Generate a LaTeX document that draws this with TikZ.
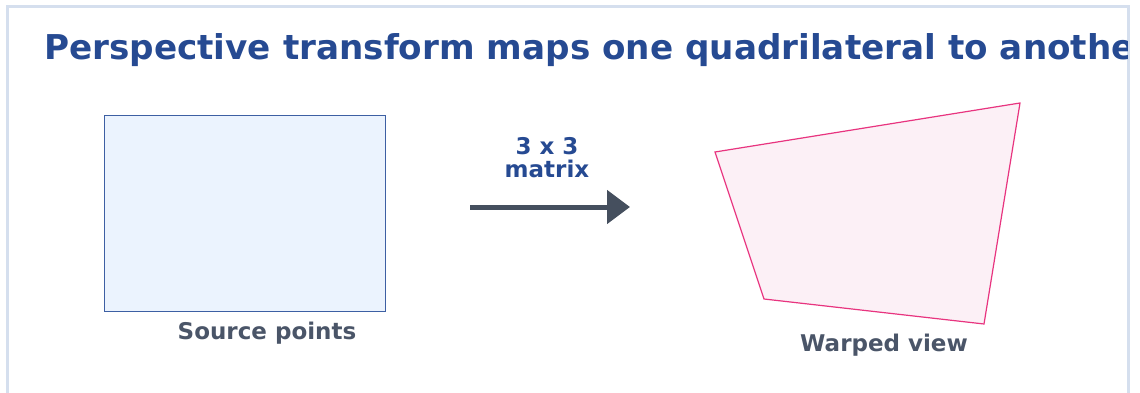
\documentclass[tikz,border=0pt]{standalone}
\usepackage{fontspec}
\setmainfont{DejaVu Sans}
\usetikzlibrary{arrows.meta}
\definecolor{titleblue}{HTML}{264A92}
\definecolor{framecol}{HTML}{D5DFEE}
\definecolor{labgray}{HTML}{4A5568}
\definecolor{arrgray}{HTML}{454F5E}
\definecolor{srcfill}{HTML}{EBF3FE}
\definecolor{srcline}{HTML}{3D5FA3}
\definecolor{warpfill}{HTML}{FCF0F6}
\definecolor{warpline}{HTML}{E8347F}
\tikzset{
  srcbox/.style={draw=srcline,fill=srcfill,line width=1pt,inner sep=0pt,minimum width=281pt,minimum height=195pt},
  warp/.style={draw=warpline,fill=warpfill,line width=1.2pt,line join=miter},
  lab/.style={font=\bfseries\fontsize{23}{23}\selectfont,text=labgray,anchor=base},
  mlab/.style={font=\bfseries\fontsize{23}{22.5}\selectfont,text=titleblue,align=center,anchor=base,inner sep=0pt},
  bigarrow/.style={draw=arrgray,line width=5pt,-{Triangle[length=23pt,width=33pt]}}
}

\begin{document}
\begin{tikzpicture}[x=1pt,y=-1pt]
  \useasboundingbox (0,0) rectangle (1140,393);
  \draw[framecol,line width=3pt] (7.5,6.5) rectangle (1128.5,430);
  % title, cut off by the frame
  \begin{scope}
    \clip (9,8) rectangle (1127,393);
    \node[anchor=base west,inner sep=0pt,text=titleblue,font=\bfseries\fontsize{34.2}{34.2}\selectfont] (title) at (44,60) {Perspective transform maps one quadrilateral to another};
  \end{scope}
  % source
  \node[srcbox] (src) at (244.5,213.5) {};
  \node[lab] (srclab) at (267,339) {Source points};
  % matrix arrow
  \coordinate (a0) at (470,207); \coordinate (a1) at (630,207);
  \draw[bigarrow] (a0) -- (a1);
  \node[mlab] (mat) at (547,177) {3 x 3\\matrix};
  % warped
  \coordinate (w1) at (715,152); \coordinate (w2) at (1020,103);
  \coordinate (w3) at (984,324); \coordinate (w4) at (764,299);
  \draw[warp] (w1) -- (w2) -- (w3) -- (w4) -- cycle;
  \node[lab] (warplab) at (884,351) {Warped view};
\end{tikzpicture}
\end{document}
